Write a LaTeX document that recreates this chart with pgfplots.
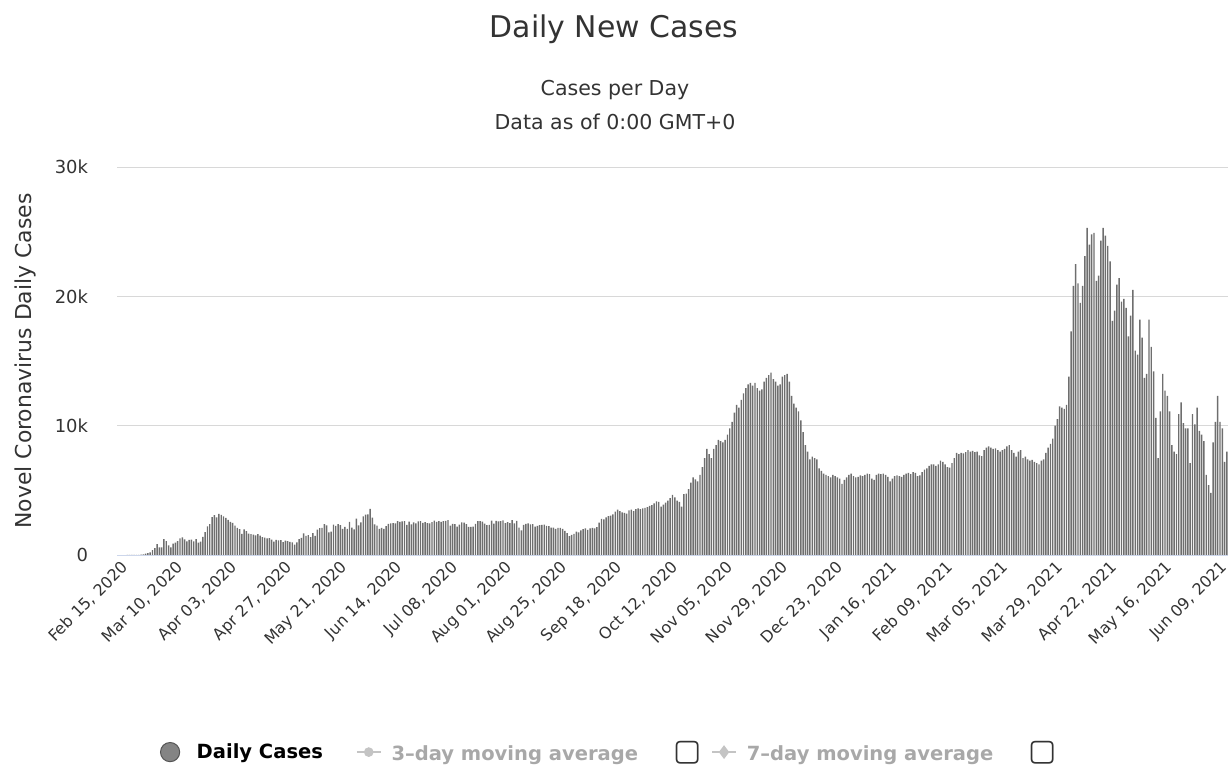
\documentclass[border=0pt]{standalone}
\usepackage{pgfplots}
\pgfplotsset{compat=1.18}
\usepackage{fontspec}
\setmainfont{DejaVu Sans}
\definecolor{txt}{HTML}{333333}
\definecolor{barfill}{HTML}{6E6E6E}
\definecolor{baredge}{HTML}{555555}
\definecolor{gridc}{HTML}{D8D8D8}
\definecolor{axisc}{HTML}{CCD6EB}
\definecolor{hid}{HTML}{A8A8A8}
\definecolor{hidsym}{HTML}{C4C4C4}
\begin{document}
\begin{tikzpicture}
\path[use as bounding box] (0,0) rectangle (614bp,387.5bp);
\node[font=\fontsize{15}{18}\selectfont, text=txt] at (307bp,373bp) {Daily New Cases};
\node[font=\fontsize{10.3}{12}\selectfont, text=txt] at (307.5bp,342.5bp) {Cases per Day};
\node[font=\fontsize{10.3}{12}\selectfont, text=txt] at (307.5bp,326.5bp) {Data as of 0:00 GMT+0};
\begin{axis}[
  at={(58.5bp,110bp)}, anchor=south west,
  scale only axis, width=555.5bp, height=194bp,
  xmin=-0.5, xmax=484.5, ymin=0, ymax=30000,
  axis x line*=bottom, axis y line*=left,
  x axis line style={axisc, line width=0.5bp},
  y axis line style={draw=none},
  major tick length=0pt,
  scaled y ticks=false,
  ytick={0,10000,20000,30000}, yticklabels={0,10k,20k,30k},
  ymajorgrids, grid style={gridc, line width=0.5bp},
  xtick={0,24,...,480},
  xticklabels={{Feb 15, 2020},{Mar 10, 2020},{Apr 03, 2020},{Apr 27, 2020},{May 21, 2020},{Jun 14, 2020},{Jul 08, 2020},{Aug 01, 2020},{Aug 25, 2020},{Sep 18, 2020},{Oct 12, 2020},{Nov 05, 2020},{Nov 29, 2020},{Dec 23, 2020},{Jan 16, 2021},{Feb 09, 2021},{Mar 05, 2021},{Mar 29, 2021},{Apr 22, 2021},{May 16, 2021},{Jun 09, 2021}},
  xticklabel style={rotate=45, anchor=east, font=\fontsize{8}{9}\selectfont, text=txt, xshift=2.5bp, yshift=-6bp},
  yticklabel style={font=\fontsize{9}{10}\selectfont, text=txt, xshift=-11bp},
  ylabel={Novel Coronavirus Daily Cases},
  every axis y label/.style={at={(axis description cs:-0.0828,0.5)}, rotate=90, anchor=center, font=\fontsize{11}{12}\selectfont, text=txt},
  legend columns=3,
  legend image code/.code={\draw[mark repeat=2,mark phase=2,#1] plot coordinates {(0bp,0bp) (6bp,0bp) (12bp,0bp)};},
  legend style={draw=none, fill=none, at={(axis description cs:0.4442,-0.508)}, anchor=center,
    font=\fontsize{9.8}{11}\selectfont\bfseries,
    /tikz/every odd column/.append style={column sep=3bp},
    /tikz/every even column/.append style={column sep=3bp}},
]
\addplot[ybar, bar width=0.72bp, fill=barfill, draw=none, forget plot]
  table[header=false, x expr=\coordindex, y index=0, row sep=\\] {
0\\0\\0\\0\\2\\3\\13\\10\\15\\18\\34\\44\\106\\143\\205\\
385\\523\\835\\586\\591\\1234\\1076\\743\\595\\881\\958\\1075\\1289\\1365\\1209\\1053\\1178\\1192\\1046\\1237\\966\\1028\\1411\\1762\\2206\\2389\\2926\\3076\\2901\\3186\\3110\\
2987\\2875\\2715\\2560\\2483\\2274\\2089\\1997\\1634\\1972\\1837\\1657\\1617\\1574\\1512\\1606\\1499\\1374\\1343\\1294\\1297\\1194\\1030\\1168\\1134\\1153\\991\\1112\\1073\\1006\\
983\\802\\976\\1223\\1323\\1680\\1485\\1529\\1383\\1683\\1481\\1958\\2080\\2102\\2392\\2294\\1757\\1806\\2346\\2250\\2392\\2311\\2023\\2180\\2011\\2560\\2111\\1990\\2819\\2282\\2516\\
2979\\3117\\3134\\3574\\2886\\2364\\2269\\2011\\2095\\2011\\2238\\2410\\2454\\2472\\2449\\2612\\2563\\2596\\2615\\2322\\2573\\2368\\2531\\2445\\2595\\2628\\2489\\2536\\2457\\2449\\
2549\\2652\\2560\\2613\\2560\\2613\\2637\\2691\\2262\\2397\\2388\\2186\\2349\\2521\\2500\\2379\\2166\\2166\\2190\\2414\\2625\\2621\\2586\\2434\\2316\\2333\\2667\\2434\\2636\\2598\\2621\\
2685\\2456\\2548\\2474\\2697\\2450\\2634\\2125\\1900\\2333\\2407\\2450\\2369\\2385\\2200\\2244\\2317\\2321\\2346\\2246\\2226\\2112\\2125\\2023\\2091\\2100\\2022\\1868\\1682\\1450\\1560\\
1640\\1800\\1750\\1900\\2000\\2050\\1950\\2060\\2100\\2050\\2150\\2500\\2800\\2750\\2900\\3000\\3050\\3150\\3350\\3500\\3400\\3300\\3250\\3200\\3450\\3500\\3400\\3550\\3600\\3550\\
3600\\3650\\3700\\3800\\3850\\4000\\4150\\4100\\3750\\3900\\4050\\4200\\4400\\4650\\4450\\4200\\4100\\3750\\4700\\4750\\5100\\5600\\6000\\5850\\5700\\6200\\6800\\7500\\8200\\7800\\7500\\
8200\\8500\\8900\\8800\\8700\\8900\\9300\\9800\\10300\\11000\\11600\\11400\\12000\\12500\\12900\\13200\\13300\\13100\\13300\\12900\\12700\\12800\\13400\\13700\\13900\\14100\\13600\\13400\\13100\\13200\\
13800\\13900\\14000\\13400\\12300\\11700\\11400\\11100\\10400\\9500\\8500\\8000\\7400\\7600\\7500\\7400\\6700\\6500\\6300\\6200\\6100\\6000\\6200\\6100\\6000\\5900\\5500\\5800\\6000\\6200\\6300\\
6100\\6000\\6050\\6150\\6100\\6200\\6300\\6250\\5900\\5800\\6200\\6300\\6250\\6300\\6200\\6050\\5700\\5900\\6100\\6150\\6100\\6050\\6200\\6300\\6350\\6250\\6400\\6350\\6100\\6150\\6400\\
6600\\6700\\6900\\7000\\7000\\6900\\7000\\7300\\7200\\7000\\6800\\6750\\7100\\7500\\7900\\7800\\7900\\7850\\7950\\8100\\8000\\8050\\7950\\8000\\7700\\7650\\8100\\8300\\
8400\\8300\\8200\\8250\\8100\\8000\\8100\\8200\\8400\\8500\\8100\\7900\\7600\\8000\\8100\\7500\\7600\\7400\\7300\\7350\\7200\\7100\\7000\\7300\\7400\\7900\\8300\\8600\\9000\\10000\\10500\\
11500\\11400\\11300\\11600\\13800\\17300\\20800\\22500\\21000\\19500\\20800\\23100\\25300\\24000\\24800\\24900\\21200\\21600\\24300\\25300\\24700\\23900\\22700\\18100\\18900\\20900\\21400\\19600\\19800\\19100\\
16900\\18500\\20500\\15800\\15500\\18200\\16800\\13700\\14000\\18200\\
16100\\14200\\10600\\7500\\11100\\14000\\12700\\12300\\11100\\8500\\8000\\7800\\10900\\11800\\10200\\9800\\9800\\7100\\10900\\10100\\11400\\9600\\9300\\8800\\6200\\5400\\4800\\8700\\10300\\12300\\10300\\9800\\7200\\8000\\
};
\addlegendimage{only marks, mark=*, mark size=4.8bp, mark options={fill=barfill!85, draw=baredge, line width=0.5bp}}
\addlegendentry{\hspace{3.5bp}\textcolor{black}{Daily Cases}\kern11.5bp\null}
\addlegendimage{hidsym, line width=0.8bp, mark=*, mark size=2bp}
\addlegendentry{\textcolor{hid}{3–day moving average}\hspace{17.5bp}{\mdseries\fontsize{15}{15}\selectfont\textcolor{txt}{▢}}}
\addlegendimage{hidsym, line width=0.8bp, mark=diamond*, mark size=2.8bp}
\addlegendentry{\textcolor{hid}{7–day moving average}\hspace{17.5bp}{\mdseries\fontsize{15}{15}\selectfont\textcolor{txt}{▢}}}
\end{axis}
\end{tikzpicture}
\end{document}
